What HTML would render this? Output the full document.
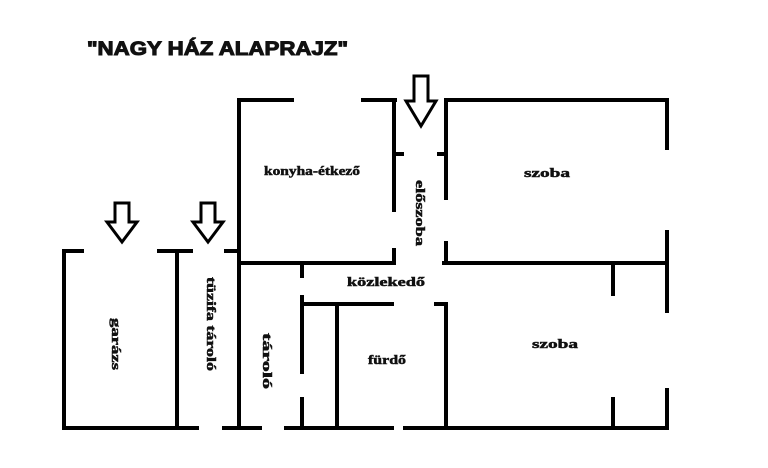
<!DOCTYPE html>
<html><head><meta charset="utf-8"><style>
html,body{margin:0;padding:0;background:#fff;}
svg{display:block;}
text{font-family:"Liberation Serif",serif;font-weight:bold;fill:#111;stroke:#111;stroke-width:0.5;}
</style></head><body>
<svg width="768" height="468" viewBox="0 0 768 468" xmlns="http://www.w3.org/2000/svg">
<rect width="768" height="468" fill="#fff"/>
<text x="87" y="55" style="font-family:'Liberation Sans',sans-serif;font-size:19px;font-weight:900;stroke-width:1" textLength="261" lengthAdjust="spacingAndGlyphs">"NAGY HÁZ ALAPRAJZ"</text>
<g stroke="#000" stroke-width="4" fill="none" stroke-linecap="square">
<line x1="239" y1="100" x2="292" y2="100"/>
<line x1="363" y1="100" x2="395" y2="100"/>
<line x1="239" y1="100" x2="239" y2="428"/>
<line x1="394" y1="100" x2="394" y2="210"/>
<line x1="394" y1="250" x2="394" y2="263"/>
<line x1="394" y1="154" x2="402" y2="154"/>
<line x1="239" y1="263" x2="394" y2="263"/>
<line x1="446" y1="100" x2="667" y2="100"/>
<line x1="446" y1="100" x2="446" y2="198"/>
<line x1="439" y1="154" x2="446" y2="154"/>
<line x1="446" y1="243" x2="446" y2="263"/>
<line x1="444" y1="263" x2="667" y2="263"/>
<line x1="667" y1="100" x2="667" y2="148"/>
<line x1="667" y1="232" x2="667" y2="311"/>
<line x1="667" y1="390" x2="667" y2="428"/>
<line x1="613" y1="263" x2="613" y2="294"/>
<line x1="613" y1="399" x2="613" y2="428"/>
<line x1="302" y1="263" x2="302" y2="276"/>
<line x1="302" y1="297" x2="302" y2="372"/>
<line x1="302" y1="399" x2="302" y2="428"/>
<line x1="302" y1="304" x2="392" y2="304"/>
<line x1="436" y1="304" x2="446" y2="304"/>
<line x1="337" y1="304" x2="337" y2="428"/>
<line x1="446" y1="304" x2="446" y2="428"/>
<line x1="239" y1="428" x2="260" y2="428"/>
<line x1="286" y1="428" x2="392" y2="428"/>
<line x1="405" y1="428" x2="667" y2="428"/>
<line x1="64" y1="251" x2="82" y2="251"/>
<line x1="159" y1="251" x2="191" y2="251"/>
<line x1="64" y1="251" x2="64" y2="428"/>
<line x1="177" y1="251" x2="177" y2="428"/>
<line x1="64" y1="428" x2="197" y2="428"/>
<line x1="224" y1="428" x2="239" y2="428"/>
<line x1="226" y1="251" x2="239" y2="251"/>
</g>
<g stroke="#000" stroke-width="3" fill="#fff" stroke-linejoin="miter">
<polygon points="414,76 428,76 428,101 436,101 421,126 406,101 414,101"/>
<polygon points="115,203 129,203 129,222 137,222 122,242 107,222 115,222"/>
<polygon points="201,203 215,203 215,222 223,222 208,242 193,222 201,222"/>
</g>
<g style="font-size:13px">
<text x="264" y="175" textLength="96" lengthAdjust="spacingAndGlyphs">konyha-étkező</text>
<text x="524" y="177" textLength="46" lengthAdjust="spacingAndGlyphs">szoba</text>
<text x="347" y="286" textLength="78" lengthAdjust="spacingAndGlyphs">közlekedő</text>
<text x="532" y="348" textLength="46" lengthAdjust="spacingAndGlyphs">szoba</text>
<text x="368" y="364" textLength="38" lengthAdjust="spacingAndGlyphs">fürdő</text>
<text transform="translate(416,180) rotate(90)" textLength="66" lengthAdjust="spacingAndGlyphs">előszoba</text>
<text transform="translate(263,333) rotate(90)" textLength="56" lengthAdjust="spacingAndGlyphs">tároló</text>
<text transform="translate(112,318) rotate(90)" textLength="52" lengthAdjust="spacingAndGlyphs">garázs</text>
<text transform="translate(207,277) rotate(90)" textLength="94" lengthAdjust="spacingAndGlyphs">tüzifa tároló</text>
</g>
</svg>
</body></html>
